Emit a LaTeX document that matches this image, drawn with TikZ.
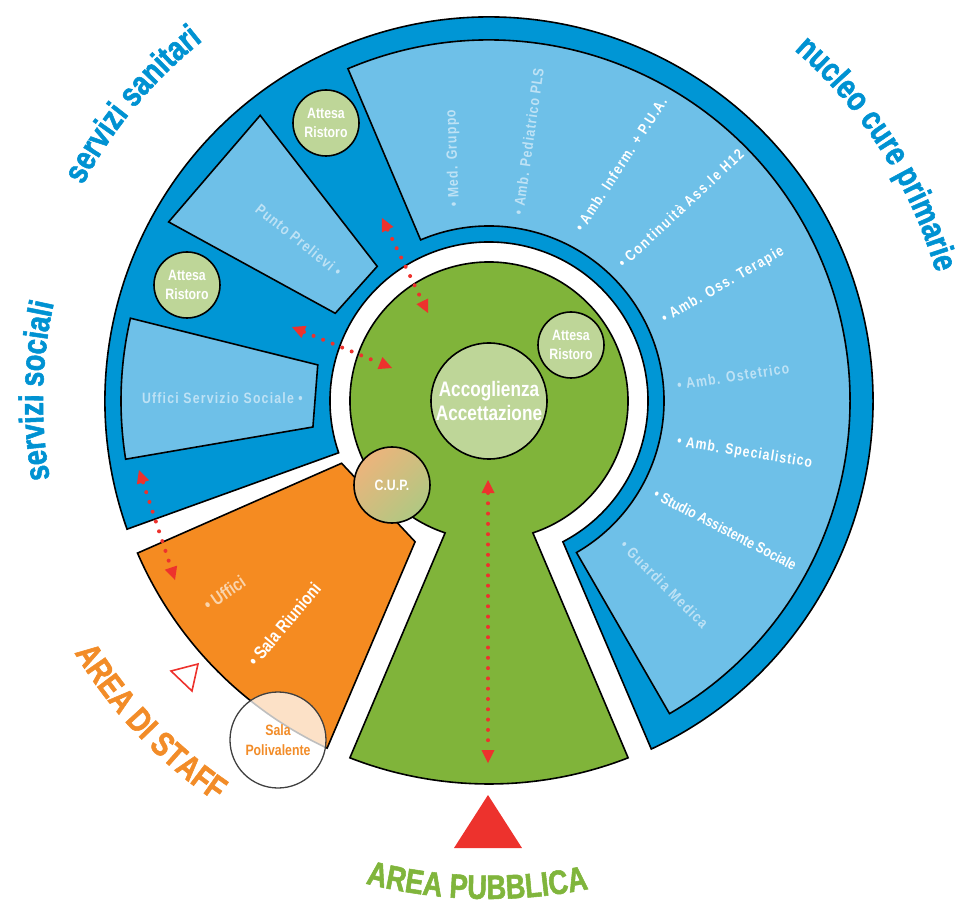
\documentclass[tikz,border=0pt]{standalone}
\usepackage{fontspec}
\usepackage{tikz}
\usetikzlibrary{arrows.meta,decorations.text}
\newfontfamily\condfont[FakeStretch=0.82]{Liberation Sans}
\newfontfamily\heavyfont[FakeStretch=0.8,FakeBold=1.6]{Liberation Sans}
\definecolor{blueDark}{RGB}{0,150,213}
\definecolor{blueLight}{RGB}{110,192,232}
\definecolor{greenArea}{RGB}{128,180,58}
\definecolor{greenLight}{RGB}{190,214,152}
\definecolor{orangeArea}{RGB}{245,139,33}
\definecolor{redArrow}{RGB}{237,50,45}
\definecolor{titleBlue}{RGB}{0,146,210}
\definecolor{titleOrange}{RGB}{242,140,40}
\definecolor{titleGreen}{RGB}{128,181,60}
\definecolor{fadeBlue}{RGB}{190,226,245}
\definecolor{fadeOrange}{RGB}{250,212,172}
\definecolor{cupOrange}{RGB}{236,180,124}
\definecolor{cupGreen}{RGB}{176,200,130}
\newcommand{\ttlfont}{\heavyfont\bfseries\fontsize{34}{34}\selectfont}
\newcommand{\labfont}[1]{\condfont\bfseries\fontsize{15}{18}\selectfont\addfontfeature{LetterSpace=#1}}

\begin{document}
\begin{tikzpicture}[x=1pt,y=1pt]
 \tikzset{room/.style={draw=black,line width=1.6pt},
  disc/.style={circle,draw=black,line width=1.6pt,inner sep=0pt,align=center,text=white,
   font=\condfont\bfseries\fontsize{15}{19}\selectfont},
  lbl/.style={inner sep=0pt,font=\labfont{#1}},lbl/.default=8,
  dotarrow/.style={draw=redArrow,line width=4pt,line cap=round,dash pattern=on 0pt off 10.3pt,
   {Triangle[length=13pt,width=13pt,line width=0pt]}-{Triangle[length=13pt,width=13pt,line width=0pt]}}}
 \useasboundingbox (-489,-503) rectangle (468,401);

 % rooms
 \draw[room,fill=blueDark] (199:159) -- (199.5:384) arc[start angle=199.5,end angle=-65,radius=384]
  -- (-62.3:159) arc[start angle=-62.3,end angle=199,radius=159] -- cycle;
 \draw[room,fill=blueLight] (113:175) -- (113:361) arc[start angle=113,end angle=-60,radius=361]
  -- (-60:175) arc[start angle=-60,end angle=113,radius=175] -- cycle;
 \draw[room,fill=blueLight] (129.7:175) -- (128.7:366) -- (150.8:367) -- (150.3:177) -- cycle;
 \draw[room,fill=blueLight] (168.1:175) -- (167:368) arc[start angle=167,end angle=189.1,radius=368]
  -- (188.4:178) -- cycle;
 \draw[room,fill=orangeArea] (202.9:160) -- (203.4:383) arc[start angle=203.4,end angle=245,radius=383]
  -- (242.3:159) -- cycle;
 \draw[room,fill=greenArea] (-71.6:139) arc[start angle=-71.6,end angle=251.6,radius=139]
  -- (248.7:383) arc[start angle=248.7,end angle=291.3,radius=383] -- cycle;

 % circles
 \node[disc,fill=greenLight,minimum size=66pt] (AR1) at (-163,278) {Attesa\\Ristoro};
 \node[disc,fill=greenLight,minimum size=66pt] (AR2) at (-302,116) {Attesa\\Ristoro};
 \node[disc,fill=greenLight,minimum size=66pt] (AR3) at (82,56) {Attesa\\Ristoro};
 \node[disc,fill=greenLight,minimum size=116pt,font=\condfont\bfseries\fontsize{21}{24}\selectfont] (ACC) at (0,0) {Accoglienza\\Accettazione};
 \node[disc,minimum size=76pt,left color=cupOrange,right color=cupGreen,shading angle=45] (CUP) at (-97,-84) {C.U.P.};
 \node[disc,draw=black!75,line width=1.3pt,fill=white,fill opacity=0.75,text opacity=1,text=titleOrange,
  minimum size=96pt,font=\condfont\bfseries\fontsize{15}{20}\selectfont] (SP) at (-211,-339) {Sala\\Polivalente};

 % room labels
 \node[lbl,anchor=west,rotate=92,text=fadeBlue] (L1) at (-34,194) {\textbullet\ Med. Gruppo};
 \node[lbl=7,anchor=west,rotate=82,text=fadeBlue] (L2) at (29,186) {\textbullet\ Amb. Pediatrico PLS};
 \node[lbl,anchor=west,rotate=57,text=white] (L3) at (89,171) {\textbullet\ Amb. Inferm. + P.U.A.};
 \node[lbl=11,anchor=west,rotate=43,text=white] (L4) at (131,136) {\textbullet\ Continuità Ass.le H12};
 \node[lbl=9,anchor=west,rotate=30,text=white] (L5) at (174,81) {\textbullet\ Amb. Oss. Terapie};
 \node[lbl,anchor=west,rotate=8.7,text=fadeBlue] (L6) at (188,16) {\textbullet\ Amb. Ostetrico};
 \node[lbl=7,anchor=west,rotate=-9,text=white] (L7) at (188,-41) {\textbullet\ Amb. Specialistico};
 \node[lbl=0,anchor=west,rotate=-27.5,text=white] (L8) at (166,-92) {\textbullet\ Studio Assistente Sociale};
 \node[lbl=9,anchor=west,rotate=-45,text=fadeBlue] (L9) at (134,-142) {\textbullet\ Guardia Medica};
 \node[lbl,anchor=east,rotate=-38.7,text=fadeBlue] (L10) at (-149,128) {Punto Prelievi \textbullet};
 \node[lbl,anchor=east,text=fadeBlue] (L11) at (-186,3) {Uffici Servizio Sociale \textbullet};
 \node[inner sep=0pt,anchor=west,rotate=34,text=fadeOrange,font=\condfont\bfseries\fontsize{18}{20}\selectfont] (L12) at (-284,-205) {\textbullet\ Uffici};
 \node[inner sep=0pt,anchor=west,rotate=50,text=white,font=\condfont\bfseries\fontsize{18}{20}\selectfont] (L13) at (-238,-263) {\textbullet\ Sala Riunioni};

 % paths
 \coordinate (P1) at (-107,183); \coordinate (P2) at (-61,88);
 \coordinate (P3) at (-197,74); \coordinate (P4) at (-97,33);
 \coordinate (P5) at (-350,-69); \coordinate (P6) at (-314,-179);
 \coordinate (P7) at (-1,-79); \coordinate (P8) at (-1,-362);
 \draw[dotarrow] (P1) -- (P2);
 \draw[dotarrow] (P3) -- (P4);
 \draw[dotarrow] (P5) -- (P6);
 \draw[dotarrow] (P7) -- (P8);

 % entrances
 \fill[redArrow] (-1,-394) -- (-35,-447) -- (33,-447) -- cycle;
 \draw[redArrow,line width=1.6pt] (-318,-270) -- (-291,-263) -- (-297,-290) -- cycle;

 % titles
 \path[decorate,decoration={text along path,text align=center,text color=titleBlue,
  text={|\ttlfont|servizi sanitari}}] (165:460) arc[start angle=165,end angle=115.5,radius=460];
 \path[decorate,decoration={text along path,text align=center,text color=titleBlue,
  text={|\ttlfont|servizi sociali}}] (200:446) arc[start angle=200,end angle=157.4,radius=446];
 \path[decorate,decoration={text along path,text align=center,text color=titleBlue,
  text={|\ttlfont|nucleo cure primarie}}] (60:465) arc[start angle=60,end angle=5,radius=465];
 \path[decorate,decoration={text along path,text align=center,text color=titleOrange,
  text={|\ttlfont|AREA DI STAFF}}] (200:485) arc[start angle=200,end angle=247,radius=485];
 \path[decorate,decoration={text along path,text align=center,text color=titleGreen,
  text={|\ttlfont|AREA PUBBLICA}}] (245:498) arc[start angle=245,end angle=292.2,radius=498];
\end{tikzpicture}
\end{document}
